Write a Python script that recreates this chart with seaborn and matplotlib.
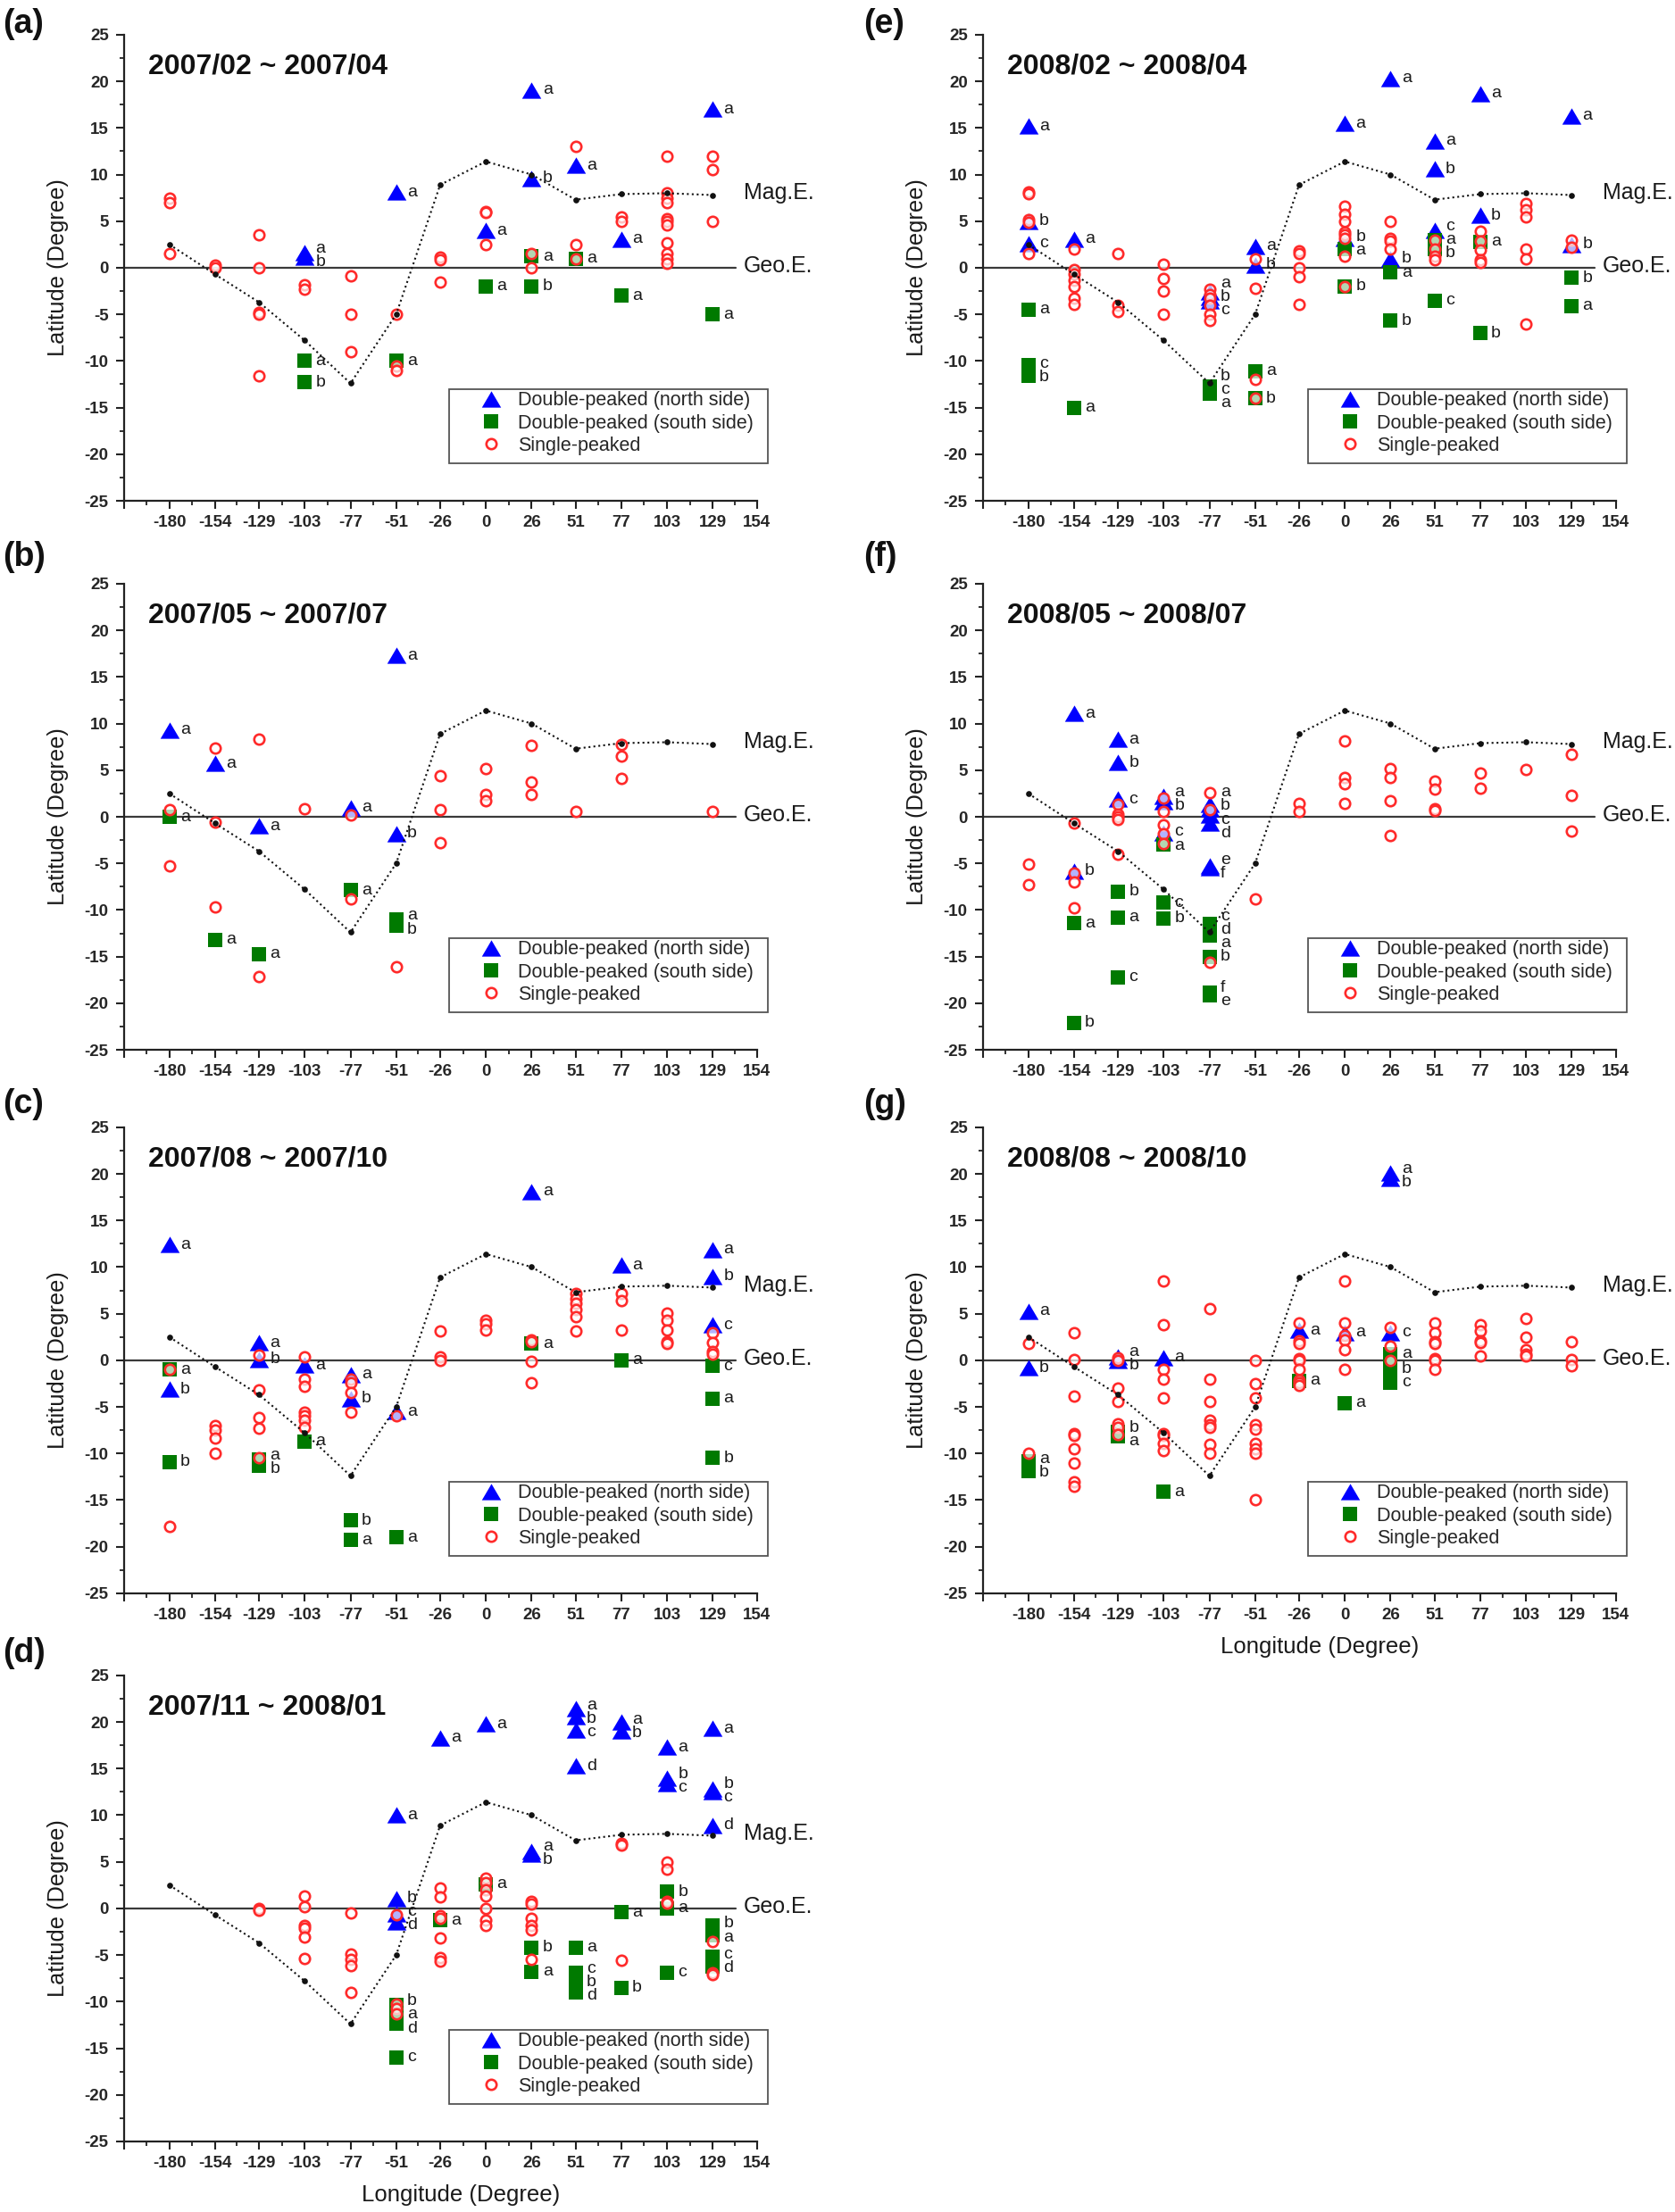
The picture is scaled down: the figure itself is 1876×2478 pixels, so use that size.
import matplotlib
matplotlib.use("Agg")
import matplotlib.pyplot as plt
import matplotlib.transforms as mtransforms
from matplotlib.lines import Line2D
from matplotlib.markers import MarkerStyle
from matplotlib.patches import Rectangle
from matplotlib.ticker import FixedLocator, MultipleLocator
import pandas as pd
import seaborn as sns

sns.set_style("ticks")
plt.rcParams["font.family"] = ["Liberation Sans", "DejaVu Sans"]
plt.rcParams["axes.unicode_minus"] = False

# x axis: longitude sectors, magnetic equator position (same in every panel)
LON_TICKS = [-180, -154, -129, -103, -77, -51, -26, 0, 26, 51, 77, 103, 129, 154]
MAG_LON = [-180, -154, -129, -103, -77, -51, -26, 0, 26, 51, 77, 103, 129]
MAG_LAT = [2.5, -0.7, -3.7, -7.8, -12.4, -5.0, 8.9, 11.4, 10.0, 7.3, 7.9, 8.0, 7.8]
Y_TICKS = [25, 20, 15, 10, 5, 0, -5, -10, -15, -20, -25]

# (a) 2007/02 ~ 2007/04
a_north = [(-103, 1.6, "a"), (-103, 1.1, "b"), (-51, 8.1, "a"), (0, 4.0, "a"), (26, 19.1, "a"),
           (26, 9.6, "b"), (51, 11.0, "a"), (77, 3.1, "a"), (129, 17.0, "a")]
a_south = [(-103, -10.0, "a"), (-103, -12.3, "b"), (-51, -10.0, "a"), (0, -2.0, "a"), (26, 1.2, "a"),
           (26, -2.0, "b"), (51, 1.0, "a"), (77, -3.0, "a"), (129, -5.0, "a")]
a_single = {-180: [7.5, 7.0, 1.5], -154: [0.3, 0.0], -129: [3.5, 0.0, -4.8, -5.0, -11.6],
            -103: [-1.8, -2.3], -77: [-0.9, -5.0, -9.0], -51: [-5.0, -10.5, -11.0],
            -26: [1.1, 0.9, -1.5], 0: [6.0, 5.9, 2.5], 26: [1.5, 0.0], 51: [13.0, 2.5, 1.0],
            77: [5.5, 5.0], 103: [12.0, 8.0, 7.5, 7.0, 5.3, 5.0, 4.6, 2.7, 1.5, 1.0, 0.5],
            129: [12.0, 10.5, 5.0]}

# (b) 2007/05 ~ 2007/07
b_north = [(-180, 9.3, "a"), (-154, 5.7, "a"), (-129, -1.0, "a"), (-77, 1.0, "a"),
           (-51, 17.3, "a"), (-51, -1.8, "b")]
b_south = [(-180, 0.0, "a"), (-154, -13.2, "a"), (-129, -14.7, "a"), (-77, -7.9, "a"),
           (-51, -11.0, "a"), (-51, -11.7, "b")]
b_single = {-180: [0.8, -5.3], -154: [7.4, -0.6, -9.7], -129: [8.3, -17.1], -103: [0.9],
            -77: [0.2, -8.8], -51: [-16.1], -26: [4.4, 0.8, -2.8], 0: [5.2, 2.4, 1.7],
            26: [7.7, 3.7, 2.4], 51: [0.6], 77: [7.8, 6.5, 4.1], 129: [0.6]}

# (c) 2007/08 ~ 2007/10
c_north = [(-180, 12.4, "a"), (-180, -3.1, "b"), (-129, 1.9, "a"), (-129, 0.1, "b"), (-103, -0.5, "a"),
           (-77, -1.5, "a"), (-77, -4.1, "b"), (-51, -5.5, "a"), (26, 18.1, "a"), (77, 10.2, "a"),
           (129, 11.9, "a"), (129, 9.0, "b"), (129, 3.8, "c")]
c_south = [(-180, -1.0, "a"), (-180, -10.9, "b"), (-129, -10.6, "a"), (-129, -11.3, "b"),
           (-103, -8.7, "a"), (-77, -17.2, "b"), (-77, -19.3, "a"), (-51, -19.0, "a"), (26, 1.8, "a"),
           (77, 0.0, "a"), (129, -0.6, "c"), (129, -4.1, "a"), (129, -10.5, "b")]
c_single = {-180: [-1.0, -17.8], -154: [-7.0, -7.5, -8.3, -10.0], -129: [0.6, -3.2, -6.1, -7.3, -10.5],
            -103: [0.4, -2.0, -2.8, -5.6, -6.0, -6.4, -7.2], -77: [-2.0, -2.4, -3.5, -5.6], -51: [-6.0],
            -26: [3.1, 0.4, 0.0], 0: [4.3, 3.9, 3.2], 26: [2.2, 2.0, -0.1, -2.4],
            51: [7.2, 6.6, 6.1, 5.4, 4.7, 3.1], 77: [7.2, 6.4, 3.2], 103: [5.1, 4.3, 3.2, 2.0, 1.8],
            129: [3.0, 1.9, 0.9, 0.7]}

# (d) 2007/11 ~ 2008/01
d_north = [(-51, 10.0, "a"), (-51, 1.0, "b"), (-51, -0.6, "c"), (-51, -1.4, "d"), (-26, 18.3, "a"),
           (0, 19.8, "a"), (26, 6.1, "a"), (26, 5.8, "b"), (51, 21.4, "a"), (51, 20.6, "b"),
           (51, 19.1, "c"), (51, 15.3, "d"), (77, 20.0, "a"), (77, 19.0, "b"), (103, 17.3, "a"),
           (103, 14.0, "b"), (103, 13.4, "c"), (129, 19.3, "a"), (129, 12.8, "b"), (129, 12.5, "c"),
           (129, 8.9, "d")]
d_south = [(-51, -10.4, "b"), (-51, -11.4, "a"), (-51, -12.4, "d"), (-51, -16.0, "c"), (-26, -1.3, "a"),
           (0, 2.6, "a"), (26, -4.2, "b"), (26, -6.8, "a"), (51, -4.2, "a"), (51, -6.9, "c"),
           (51, -7.9, "b"), (51, -9.0, "d"), (77, -0.4, "a"), (77, -8.5, "b"), (103, 1.8, "b"),
           (103, 0.0, "a"), (103, -6.9, "c"), (129, -1.8, "b"), (129, -2.9, "a"), (129, -5.2, "c"),
           (129, -6.2, "d")]
d_single = {-129: [0.0, -0.2], -103: [1.3, 0.2, -1.8, -2.1, -3.1, -5.4], -77: [-0.5, -4.9, -5.5, -6.1, -9.0],
            -51: [-0.7, -10.3, -10.7, -11.3], -26: [2.2, 1.2, -0.8, -1.1, -3.2, -5.3, -5.7],
            0: [3.2, 2.8, 2.0, 1.3, 0.0, -1.3, -1.8], 26: [0.8, 0.5, -1.1, -1.8, -2.3, -5.5],
            77: [7.0, 6.8, -5.6], 103: [5.0, 4.2, 0.8, 0.6], 129: [-3.6, -6.9, -7.1]}

# (e) 2008/02 ~ 2008/04
e_north = [(-180, 15.2, "a"), (-180, 5.0, "b"), (-180, 2.6, "c"), (-154, 3.1, "a"), (-77, -2.6, "a"),
           (-77, -3.2, "b"), (-77, -3.5, "c"), (-51, 2.3, "a"), (-51, 0.3, "b"), (0, 15.5, "a"),
           (0, 3.2, "b"), (26, 20.3, "a"), (26, 1.0, "b"), (51, 13.6, "a"), (51, 10.6, "b"),
           (51, 4.0, "c"), (77, 18.7, "a"), (77, 5.6, "b"), (129, 16.3, "a"), (129, 2.5, "b")]
e_south = [(-180, -4.5, "a"), (-180, -10.4, "c"), (-180, -11.6, "b"), (-154, -15.0, "a"),
           (-77, -12.7, "b"), (-77, -13.1, "c"), (-77, -13.5, "a"), (-51, -11.1, "a"), (-51, -14.0, "b"),
           (0, 2.0, "a"), (0, -2.0, "b"), (26, -0.5, "a"), (26, -5.7, "b"), (51, 3.0, "a"), (51, 2.0, "b"),
           (51, -3.5, "c"), (77, 2.8, "a"), (77, -7.0, "b"), (129, -1.1, "b"), (129, -4.1, "a")]
e_single = {-180: [8.1, 7.9, 5.2, 4.9, 1.5], -154: [2.0, -0.2, -0.7, -1.3, -2.0, -3.3, -3.9],
            -129: [1.5, -4.0, -4.7], -103: [0.4, -1.2, -2.5, -5.0], -77: [-2.3, -2.9, -3.3, -4.0, -5.0, -5.7],
            -51: [1.0, -2.2, -12.0, -14.0], -26: [1.8, 1.5, 0.0, -1.0, -3.9],
            0: [6.6, 5.7, 5.0, 3.8, 3.5, 3.2, 1.2, -2.0], 26: [5.0, 3.2, 2.9, 2.0], 51: [3.0, 2.0, 1.2, 0.9],
            77: [3.9, 2.9, 1.9, 0.9, 0.6], 103: [6.9, 6.2, 5.5, 2.0, 1.0, -6.0], 129: [3.0, 2.2]}

# (f) 2008/05 ~ 2008/07
f_north = [(-154, 11.1, "a"), (-154, -5.8, "b"), (-129, 8.3, "a"), (-129, 5.8, "b"), (-129, 1.9, "c"),
           (-103, 2.2, "a"), (-103, 1.6, "b"), (-103, -1.7, "c"), (-77, 1.3, "a"), (-77, 0.9, "b"),
           (-77, 0.2, "c"), (-77, -0.7, "d"), (-77, -5.3, "e"), (-77, -5.5, "f")]
f_south = [(-154, -11.4, "a"), (-154, -22.1, "b"), (-129, -8.0, "b"), (-129, -10.8, "a"),
           (-129, -17.2, "c"), (-103, -3.0, "a"), (-103, -9.2, "c"), (-103, -10.9, "b"), (-77, -11.5, "c"),
           (-77, -12.1, "d"), (-77, -12.7, "a"), (-77, -15.0, "b"), (-77, -18.9, "f"), (-77, -19.2, "e")]
f_single = {-180: [-5.1, -7.3], -154: [-0.7, -6.0, -7.0, -9.8], -129: [1.3, 0.3, 0.0, -0.3, -4.0],
            -103: [2.0, 0.6, -0.9, -1.8, -2.9], -77: [2.6, 0.8, -15.6], -51: [-8.8], -26: [1.4, 0.6],
            0: [8.1, 4.2, 3.5, 1.4], 26: [5.2, 4.2, 1.7, -2.0], 51: [3.8, 3.0, 0.9, 0.7], 77: [4.7, 3.1],
            103: [5.1], 129: [6.7, 2.3, -1.5]}

# (g) 2008/08 ~ 2008/10
g_north = [(-180, 5.3, "a"), (-180, -0.8, "b"), (-129, 0.4, "a"), (-129, 0.0, "b"), (-103, 0.3, "a"),
           (-26, 3.2, "a"), (0, 3.0, "a"), (26, 20.1, "a"), (26, 19.5, "b"), (26, 3.0, "c")]
g_south = [(-180, -10.8, "a"), (-180, -11.9, "b"), (-129, -7.7, "b"), (-129, -8.2, "a"),
           (-103, -14.1, "a"), (-26, -2.2, "a"), (0, -4.6, "a"), (26, 0.7, "a"), (26, -0.9, "b"),
           (26, -2.4, "c")]
g_single = {-180: [1.8, -10.0], -154: [3.0, 0.1, -3.8, -7.9, -8.1, -9.5, -11.0, -13.0, -13.5],
            -129: [0.3, 0.0, -3.0, -4.4, -6.8, -7.2, -8.0],
            -103: [8.5, 3.8, -1.0, -2.0, -4.0, -7.9, -8.1, -8.9, -9.7],
            -77: [5.5, -2.0, -4.4, -6.4, -6.9, -7.2, -9.0, -10.0],
            -51: [0.0, -2.5, -4.0, -6.9, -7.4, -8.9, -9.5, -10.0, -15.0],
            -26: [4.0, 2.1, 1.8, 0.2, 0.0, -1.0, -2.1, -2.4, -2.7], 0: [8.5, 4.0, 2.7, 2.2, 1.1, -1.0],
            26: [3.5, 1.5, 0.0], 51: [4.0, 3.0, 2.0, 1.8, 0.2, 0.0, -1.0], 77: [3.8, 3.1, 2.1, 1.9, 0.5],
            103: [4.5, 2.5, 1.1, 0.7, 0.5], 129: [2.0, 0.1, -0.6]}

BLUE = "#0000ff"
GREEN = "#007a00"
RED = "#ff2a2a"
TRI = MarkerStyle([(0, 0.85), (-1, -0.85), (1, -0.85)])
XMIN, XMAX = -205.7, 154.3


def spread_labels(ys, gap=1.45):
    # push stacked letters apart so they don't sit on top of each other
    order = sorted(range(len(ys)), key=lambda i: -ys[i])
    groups = [[i] for i in order]

    def place(g):
        c = sum(ys[i] for i in g) / len(g)
        n = len(g)
        return [c + gap * ((n - 1) / 2 - k) for k in range(n)]

    merged = True
    while merged:
        merged = False
        for j in range(len(groups) - 1):
            if place(groups[j])[-1] - place(groups[j + 1])[0] < gap - 1e-9:
                groups[j] = groups[j] + groups[j + 1]
                del groups[j + 1]
                merged = True
                break
    out = [0.0] * len(ys)
    for g in groups:
        for pos, i in zip(place(g), g):
            out[i] = pos
    return out


def draw_panel(ax, period, north, south, single, show_xlabel):
    df_n = pd.DataFrame(north, columns=["lon", "lat", "tag"])
    df_s = pd.DataFrame(south, columns=["lon", "lat", "tag"])
    df_o = pd.DataFrame([(lon, v) for lon, vals in single.items() for v in vals], columns=["lon", "lat"])
    df_m = pd.DataFrame({"lon": MAG_LON, "lat": MAG_LAT})

    ax.axhline(0, xmin=0, xmax=0.966, color="#3a3a3a", lw=1.6, zorder=1)

    sns.scatterplot(data=df_n, x="lon", y="lat", marker=TRI, s=240, color=BLUE,
                    edgecolor=BLUE, linewidth=0, legend=False, ax=ax, zorder=3)
    sns.scatterplot(data=df_s, x="lon", y="lat", marker="s", s=120, color=GREEN,
                    edgecolor=GREEN, linewidth=0, legend=False, ax=ax, zorder=3)
    sns.scatterplot(data=df_o, x="lon", y="lat", marker="o", s=68, color=RED,
                    facecolor=(1, 1, 1, 0.7), edgecolor=RED, linewidth=1.9,
                    legend=False, ax=ax, zorder=4)
    sns.lineplot(data=df_m, x="lon", y="lat", color="#111111", lw=1.5, linestyle=":",
                 marker="o", markersize=4.8, markeredgewidth=0, ax=ax, zorder=5)

    # letters next to the double-peaked markers
    tags = pd.concat([df_n, df_s], ignore_index=True)
    for lon, grp in tags.groupby("lon"):
        ylab = spread_labels(list(grp["lat"]))
        for t, yl in zip(grp["tag"], ylab):
            ax.annotate(t, xy=(lon, yl), xytext=(8.8, 0), textcoords="offset points",
                        ha="left", va="center", fontsize=14, color="#1a1a1a", zorder=6)

    trans = mtransforms.blended_transform_factory(ax.transAxes, ax.transData)
    ax.text(0.978, 8.0, "Mag.E.", transform=trans, fontsize=18, va="center", ha="left",
            color="#1a1a1a", clip_on=False)
    ax.text(0.978, 0.2, "Geo.E.", transform=trans, fontsize=18, va="center", ha="left",
            color="#1a1a1a", clip_on=False)
    ax.text(0.038, 0.932, period, transform=ax.transAxes, fontsize=23, fontweight="bold",
            va="center", ha="left", color="#111111")

    ax.set_xlim(XMIN, XMAX)
    ax.set_ylim(-25, 25)
    xt = [XMIN] + LON_TICKS
    ax.set_xticks(xt, [""] + [str(v) for v in LON_TICKS], fontweight="bold", fontsize=13.5)
    ax.set_yticks(Y_TICKS, [str(v) for v in Y_TICKS], fontweight="bold", fontsize=13.5)
    ax.xaxis.set_minor_locator(FixedLocator([(xt[i] + xt[i + 1]) / 2 for i in range(len(xt) - 1)]))
    ax.yaxis.set_minor_locator(MultipleLocator(2.5))
    ax.tick_params(which="major", direction="out", length=6.5, width=1.5, color="#222222", pad=5)
    ax.tick_params(axis="y", which="major", pad=6)
    ax.tick_params(which="minor", direction="out", length=3.6, width=1.3, color="#222222")
    sns.despine(ax=ax)
    for sp in ("left", "bottom"):
        ax.spines[sp].set_linewidth(1.6)
        ax.spines[sp].set_color("#222222")

    ax.set_ylabel("Latitude (Degree)", fontsize=18.3, color="#1a1a1a")
    ax.yaxis.set_label_coords(-0.088, 0.5)
    if show_xlabel:
        ax.set_xlabel("Longitude (Degree)", fontsize=18.5, color="#1a1a1a")
        ax.xaxis.set_label_coords(0.532, -0.092)
    else:
        ax.set_xlabel("")

    # legend box (frame drawn separately so the padding matches)
    ax.add_patch(Rectangle((0.513, 0.08), 0.504, 0.16, transform=ax.transAxes, facecolor="white",
                           edgecolor="#555555", lw=1.3, zorder=7, clip_on=False))
    handles = [
        Line2D([], [], marker=TRI, color=BLUE, linestyle="none", markersize=15.5, mew=0),
        Line2D([], [], marker="s", color=GREEN, linestyle="none", markersize=11, mew=0),
        Line2D([], [], marker="o", color=RED, markerfacecolor="white", linestyle="none",
               markersize=8.2, mew=1.9),
    ]
    labels = ["Double-peaked (north side)", "Double-peaked (south side)", "Single-peaked"]
    leg = ax.legend(handles, labels, loc="upper left", bbox_to_anchor=(0.555, 0.235),
                    frameon=False, borderpad=0, borderaxespad=0, handlelength=1.6,
                    handletextpad=0.6, labelspacing=0.2, fontsize=15.5)
    leg.set_zorder(8)


fig = plt.figure(figsize=(18.76, 24.78), dpi=100)
W, H = 0.378, 0.2107
LEFT_X, RIGHT_X = 0.0741, 0.5869
ROW_B = [0.7736, 0.5254, 0.2797, 0.0319]
LETTER_Y = [0.9891, 0.7482, 0.5008, 0.2526]

layout = [
    ("(a)", "2007/02 ~ 2007/04", a_north, a_south, a_single, 0, 0, False),
    ("(b)", "2007/05 ~ 2007/07", b_north, b_south, b_single, 0, 1, False),
    ("(c)", "2007/08 ~ 2007/10", c_north, c_south, c_single, 0, 2, False),
    ("(d)", "2007/11 ~ 2008/01", d_north, d_south, d_single, 0, 3, True),
    ("(e)", "2008/02 ~ 2008/04", e_north, e_south, e_single, 1, 0, False),
    ("(f)", "2008/05 ~ 2008/07", f_north, f_south, f_single, 1, 1, False),
    ("(g)", "2008/08 ~ 2008/10", g_north, g_south, g_single, 1, 2, True),
]

for letter, period, north, south, single, col, row, xl in layout:
    x0 = LEFT_X if col == 0 else RIGHT_X
    ax = fig.add_axes([x0, ROW_B[row], W, H])
    draw_panel(ax, period, north, south, single, xl)
    fig.text(0.0016 if col == 0 else 0.5155, LETTER_Y[row], letter, fontsize=27,
             fontweight="bold", va="center", ha="left", color="#111111")

fig.savefig("out.png", dpi=100)
